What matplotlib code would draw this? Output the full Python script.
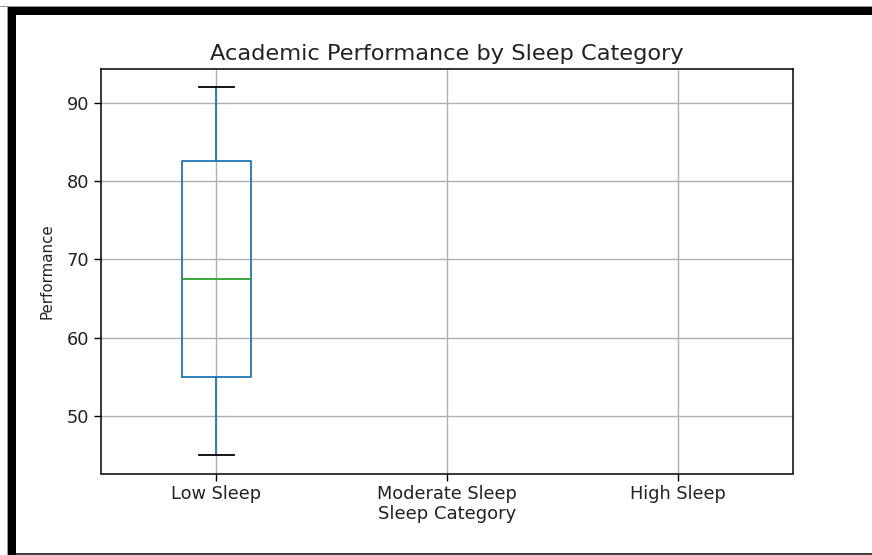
import numpy as np
import matplotlib.pyplot as plt
from matplotlib.patches import Rectangle

# 各睡眠分组的成绩数据
categories = ['Low Sleep', 'Moderate Sleep', 'High Sleep']
low_sleep = [45, 55, 67.5, 82.5, 92]
moderate_sleep = []
high_sleep = []

W, H = 872, 555
fig = plt.figure(figsize=(W / 100, H / 100), dpi=100)

# 截图边框
def px_rect(x0, y0, x1, y1, color):
    fig.patches.append(Rectangle((x0 / W, 1 - y1 / H), (x1 - x0) / W, (y1 - y0) / H,
                                 transform=fig.transFigure, facecolor=color,
                                 edgecolor='none', zorder=10))

px_rect(0, 5.5, W, 7, '#9a9a9a')
px_rect(6.5, 5.5, 8, H, '#9a9a9a')
px_rect(8, 7, W, 15, 'black')
px_rect(8, 7, 16, H, 'black')
px_rect(16, 552.5, W, 554.5, '#444444')

ax = fig.add_axes([101 / W, 1 - 473.5 / H, (793.3 - 101) / W, (473.5 - 68.5) / H])

ax.boxplot([low_sleep, moderate_sleep, high_sleep], positions=[1, 2, 3], widths=0.3,
           boxprops=dict(color='C0', linewidth=1.3),
           whiskerprops=dict(color='C0', linewidth=1.3),
           capprops=dict(color='black', linewidth=1.3),
           medianprops=dict(color='C2', linewidth=1.3))

ax.set_xticks([1, 2, 3])
ax.set_xticklabels(categories)
ax.set_xlim(0.5, 3.5)
ax.set_ylim(42.65, 94.35)
ax.grid(True, color='#b0b0b0', linewidth=1.0)
ax.set_axisbelow(True)
ax.tick_params(labelsize=12.8, length=5, width=1.0, labelcolor='#222222')
for s in ax.spines.values():
    s.set_linewidth(1.1)

ax.set_title('Academic Performance by Sleep Category', fontsize=16.2, pad=6, color='#222222')
ax.set_xlabel('Sleep Category', fontsize=13, labelpad=1, color='#222222')
ax.set_ylabel('Performance', fontsize=10.8, labelpad=9, color='#222222')

fig.savefig('out.png', dpi=100)
